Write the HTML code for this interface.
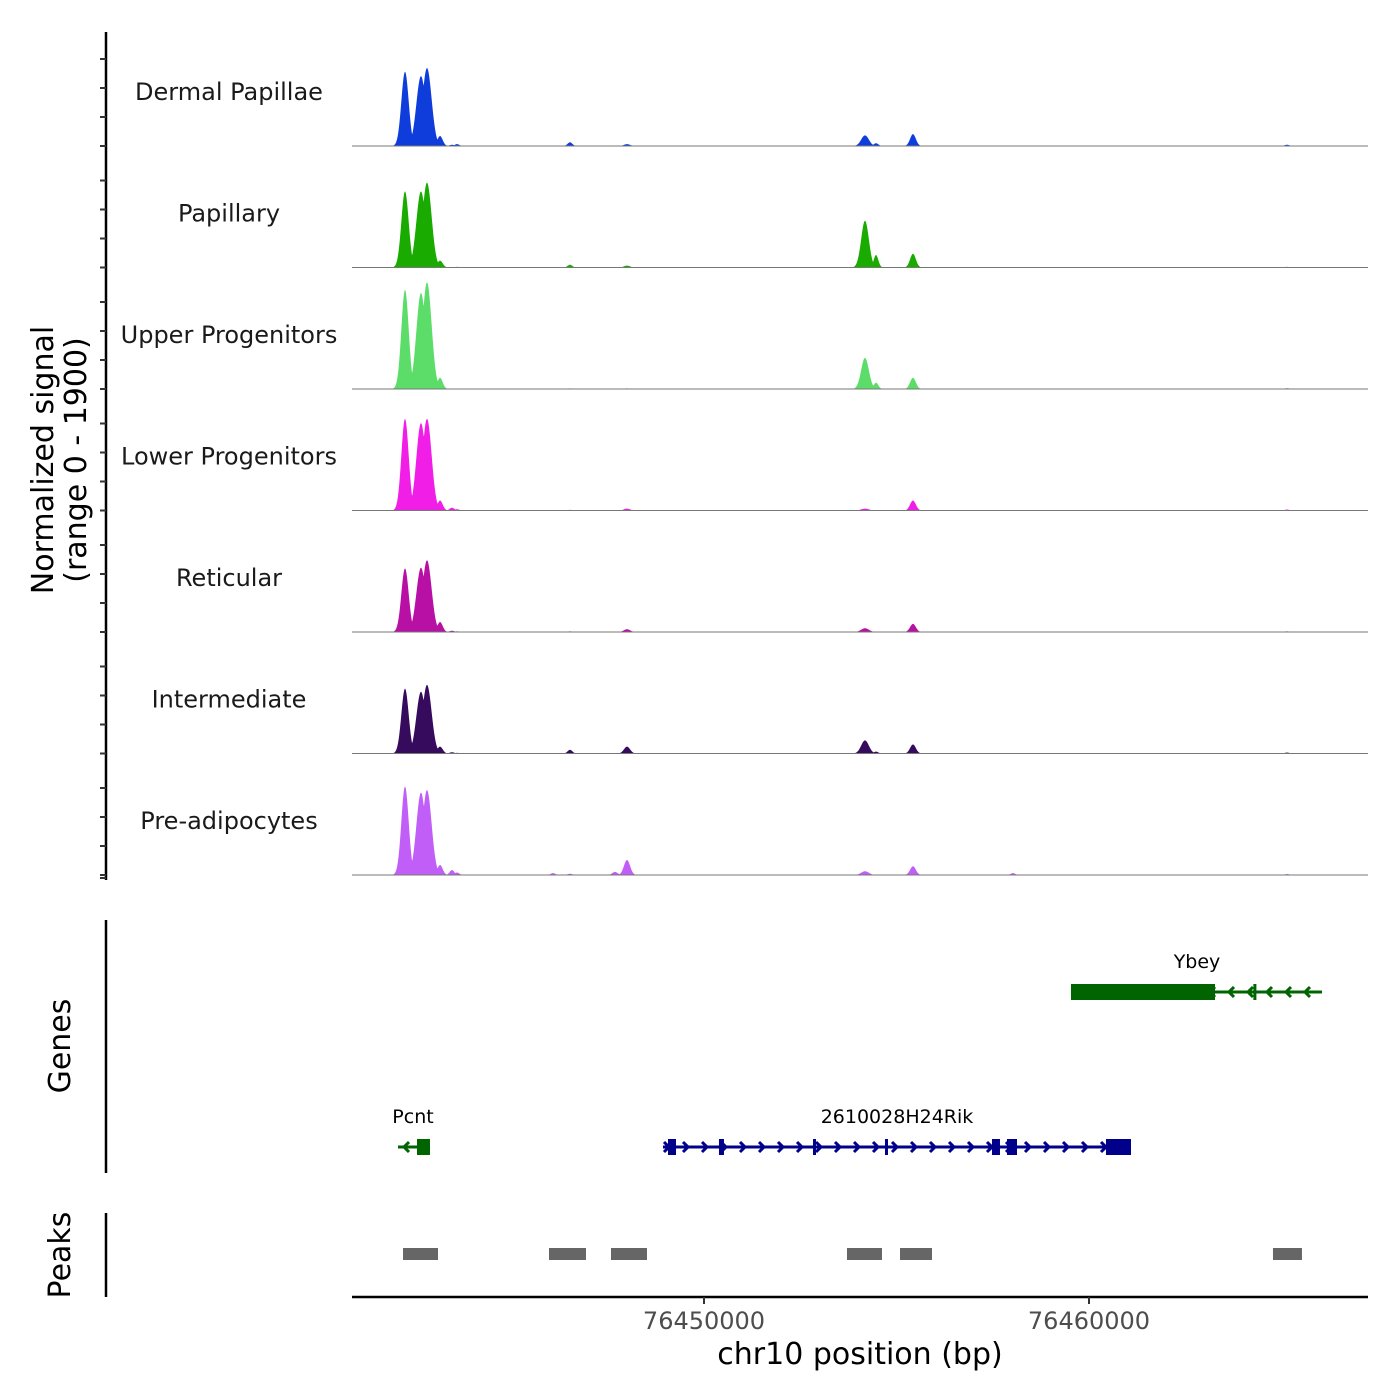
<!DOCTYPE html>
<html><head><meta charset="utf-8"><style>
html,body{margin:0;padding:0;background:#fff;}
svg{display:block;font-family:"DejaVu Sans","Liberation Sans",sans-serif;}
</style></head><body>
<svg id="chart" width="1400" height="1400" viewBox="0 0 1400 1400">
<g id="tracks"></g>
<g id="genes"></g>
<g id="peaks"></g>
<g id="axes"></g>
</svg>
<script>
// ---- data ----
const trackNames = ["Dermal Papillae","Papillary","Upper Progenitors","Lower Progenitors","Reticular","Intermediate","Pre-adipocytes"];
const trackColors = ["#0f3ddc","#1aab00","#5cdd6a","#f01ee6","#b80fa4","#360a5c","#c15ef7"];
const peakPositions = [76442234,76442649,76442805,76443143,76443454,76443584,76446078,76446519,76447688,76448000,76454182,76454468,76455428,76458026,76465143];
const peakWidths    = [95,120,120,70,60,60,60,60,70,80,100,60,75,60,60];
const sigDermal   = [1190,1120,1250,160,20,30,0,60,0,30,170,45,190,0,20];
const sigPapillary= [1220,1220,1360,110,0,10,0,45,0,30,750,200,220,0,10];
const sigUpper    = [1590,1540,1710,180,0,0,0,10,0,10,500,100,180,0,15];
const sigLower    = [1470,1400,1470,160,45,20,0,10,0,30,30,0,160,0,15];
const sigReticular= [1020,1030,1150,160,20,10,0,10,0,45,60,0,130,0,10];
const sigInterm   = [1040,990,1100,110,20,10,0,60,0,110,210,30,145,0,15];
const sigPreadipo = [1420,1320,1360,160,80,40,30,20,50,240,60,0,140,30,15];
const signals = [sigDermal,sigPapillary,sigUpper,sigLower,sigReticular,sigInterm,sigPreadipo];
const xTicks = [76450000,76460000];
const xTickLabels = ["76450000","76460000"];
const genes = [
  {name:"Ybey", start:76459532, end:76466052, strand:-1, color:"#006400", row:0, exons:[[76459532,76463273],[76464270,76464300]]},
  {name:"Pcnt", start:76442052, end:76442883, strand:-1, color:"#006400", row:1, exons:[[76442545,76442883]]},
  {name:"2610028H24Rik", start:76448935, end:76461091, strand:1, color:"#00008b", row:1,
   exons:[[76449065,76449273],[76450389,76450519],[76452831,76452909],[76454701,76454779],[76457480,76457688],[76457870,76458130],[76460441,76461091]]}
];
const peakStarts = [76442182,76445974,76447584,76453714,76455091,76464779];
const peakEnds   = [76443091,76446935,76448519,76454623,76455922,76465532];

// ---- layout ----
const X0=352, X1=1368, bp0=76440857, bp1=76467247;
const xs = bp => X0 + (bp-bp0)/(bp1-bp0)*(X1-X0);
const NS="http://www.w3.org/2000/svg";
function mk(tag, attrs, parent){const e=document.createElementNS(NS,tag);for(const k in attrs)e.setAttribute(k,attrs[k]);parent.appendChild(e);return e;}
const base0=146, trackH=121.5, maxSig=1900;

const tracksG=document.getElementById('tracks');
trackNames.forEach((nm,t)=>{
  const base=base0+t*trackH;
  const ys = v => base - v/maxSig*(trackH-3);
  const g=mk('g',{},tracksG);
  
  
  let d='M'+X0+','+base;
  for(let px=X0;px<=X1;px+=0.5){
    const bp=bp0+(px-X0)/(X1-X0)*(bp1-bp0);
    let v=0;
    signals[t].forEach((s,i)=>{const z=(bp-peakPositions[i])/peakWidths[i];v=Math.max(v,s*Math.exp(-0.5*z*z));});
    d+=' L'+px+','+ys(v).toFixed(2);
  }
  d+=' L'+X1+','+base+' Z';
  const a=mk('path',{d:d,fill:trackColors[t]},g);
  
  
  const bl=mk('line',{x1:X0,x2:X1,y1:base,y2:base,stroke:'#777','stroke-width':1},g);
  
  
  const lb=mk('text',{x:229,y:base-46,'text-anchor':'middle','font-size':24,fill:'#1a1a1a'},g);
  lb.textContent=nm;
  
  
});

// genes
const genesG=document.getElementById('genes');
const rowY=[992,1147];
genes.forEach(gn=>{
  const y=rowY[gn.row];
  const g=mk('g',{},genesG);
  
  
  mk('line',{x1:xs(gn.start),x2:xs(gn.end),y1:y,y2:y,stroke:gn.color,'stroke-width':3},g);
  const n=Math.floor((xs(gn.end)-xs(gn.start))/19);
  for(let i=0;i<=n;i++){
    const x=xs(gn.start)+6+i*19;
    if(x>xs(gn.end)-2)break;
    const dx=gn.strand*5;
    mk('polyline',{points:(x-dx)+','+(y-5)+' '+x+','+y+' '+(x-dx)+','+(y+5),fill:'none',stroke:gn.color,'stroke-width':3},g);
  }
  gn.exons.forEach(ex=>{
    const r=mk('rect',{x:xs(ex[0]),y:y-8,width:Math.max(3,xs(ex[1])-xs(ex[0])),height:16,fill:gn.color},g);
    
    
  });
  const lb=mk('text',{x:(xs(gn.start)+xs(gn.end))/2,y:y-24,'text-anchor':'middle','font-size':19,fill:'#000'},g);
  if(gn.name==='Ybey') lb.setAttribute('x',1197);
  if(gn.name==='Pcnt') lb.setAttribute('x',413);
  lb.textContent=gn.name;
  
  
});

// peaks
const peaksG=document.getElementById('peaks');
peakStarts.forEach((s,i)=>{
  const r=mk('rect',{x:xs(s),y:1248,width:xs(peakEnds[i])-xs(s),height:12,fill:'#666'},peaksG);
  
  
});

// axes
const ax=document.getElementById('axes');
const yl=mk('line',{x1:106,x2:106,y1:32,y2:880,stroke:'#000','stroke-width':2.5},ax);


for(let t=0;t<7;t++){const base=base0+t*trackH;for(let k=0;k<4;k++){const y=base-k*29;mk('line',{x1:100,x2:106,y1:y,y2:y,stroke:'#333','stroke-width':2},ax);}}
mk('line',{x1:100,x2:106,y1:878,y2:878,stroke:'#333','stroke-width':2},ax);
const gl=mk('line',{x1:106,x2:106,y1:920,y2:1173,stroke:'#000','stroke-width':2.5},ax);


const pl=mk('line',{x1:106,x2:106,y1:1213,y2:1297,stroke:'#000','stroke-width':2.5},ax);


const xl=mk('line',{x1:X0,x2:X1,y1:1297,y2:1297,stroke:'#000','stroke-width':2.5},ax);


xTicks.forEach((v,i)=>{
  mk('line',{x1:xs(v),x2:xs(v),y1:1297,y2:1304,stroke:'#333','stroke-width':2},ax);
  const tl=mk('text',{x:xs(v),y:1329,'text-anchor':'middle','font-size':24,fill:'#4d4d4d'},ax);
  tl.textContent=xTickLabels[i];
  
  
});
const xt=mk('text',{x:860,y:1364,'text-anchor':'middle','font-size':30,fill:'#000'},ax);
xt.textContent='chr10 position (bp)';


const yt=mk('text',{transform:'translate(53,460) rotate(-90)','text-anchor':'middle','font-size':30,fill:'#000'},ax);


const t1=mk('tspan',{x:0,dy:0},yt);t1.textContent='Normalized signal';
const t2=mk('tspan',{x:0,dy:33},yt);t2.textContent='(range 0 - 1900)';
const gt=mk('text',{transform:'translate(70,1046) rotate(-90)','text-anchor':'middle','font-size':30,fill:'#000'},ax);
gt.textContent='Genes';


const pt=mk('text',{transform:'translate(70,1255) rotate(-90)','text-anchor':'middle','font-size':30,fill:'#000'},ax);
pt.textContent='Peaks';


</script>
</body></html>
